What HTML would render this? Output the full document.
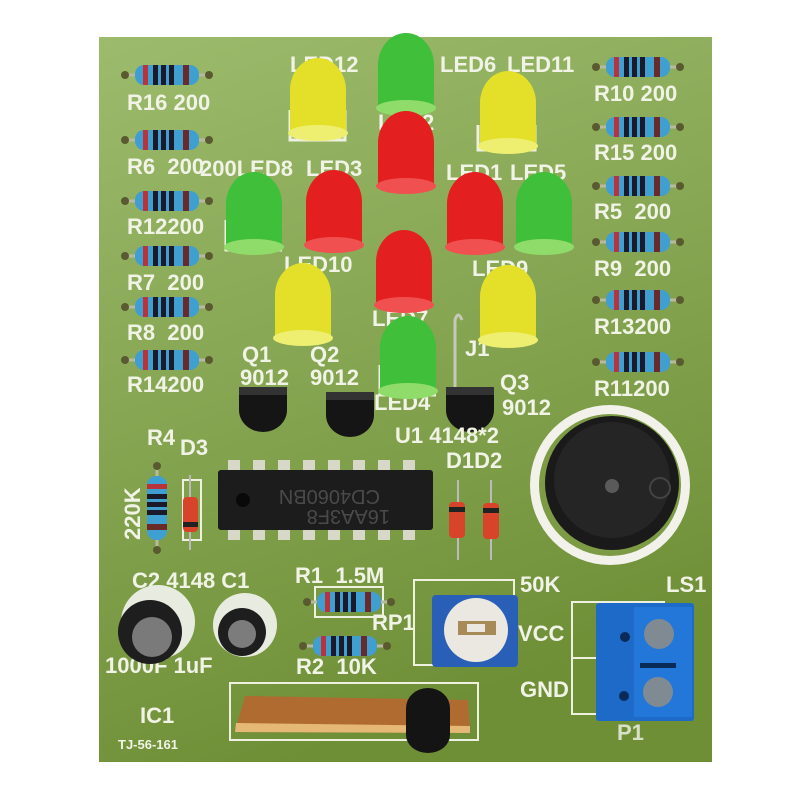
<!DOCTYPE html>
<html><head><meta charset="utf-8"><style>
html,body{margin:0;padding:0;background:#fff;}
svg{display:block}
text{font-family:"Liberation Sans",sans-serif;fill:#f1f3e6;font-size:22px;font-weight:bold;}
</style></head><body>
<svg width="800" height="800" viewBox="0 0 800 800" xmlns="http://www.w3.org/2000/svg">
<defs>
<linearGradient id="bd" x1="0" y1="0" x2="0.3" y2="1">
<stop offset="0" stop-color="#9cbb6c"/><stop offset="0.5" stop-color="#86a653"/><stop offset="1" stop-color="#6f8f37"/>
</linearGradient>
<g id="res">
<line x1="-42" y1="0" x2="42" y2="0" stroke="#b9b9a0" stroke-width="3"/>
<circle cx="-42" cy="0" r="4" fill="#5a5a30"/><circle cx="42" cy="0" r="4" fill="#5a5a30"/>
<rect x="-32" y="-10" width="64" height="20" rx="9" fill="#3f9fd0"/>
<rect x="-24" y="-10" width="5" height="20" fill="#b8343a"/>
<rect x="-14" y="-10" width="5" height="20" fill="#1a1a2a"/>
<rect x="-6" y="-10" width="5" height="20" fill="#1a1a2a"/>
<rect x="2" y="-10" width="5" height="20" fill="#1a1a2a"/>
<rect x="16" y="-10" width="6" height="20" fill="#6b2a2a"/>
</g>
<g id="tr">
<path d="M-24,-18 L24,-18 L24,5 A24,22 0 0 1 -24,5 Z" fill="#151515"/>
<path d="M-24,-18 L24,-18 L24,-10 L-24,-10 Z" fill="#333"/>
</g>
</defs>
<rect width="800" height="800" fill="#fff"/>
<rect x="99" y="37" width="613" height="725" fill="url(#bd)"/>

<use href="#res" transform="translate(167,75)"/>
<use href="#res" transform="translate(167,140)"/>
<use href="#res" transform="translate(167,201)"/>
<use href="#res" transform="translate(167,256)"/>
<use href="#res" transform="translate(167,307)"/>
<use href="#res" transform="translate(167,360)"/>
<text x="127" y="110">R16 200</text>
<text x="127" y="174">R6 &#160;200</text>
<text x="127" y="234">R12200</text>
<text x="127" y="290">R7 &#160;200</text>
<text x="127" y="340">R8 &#160;200</text>
<text x="127" y="392">R14200</text>
<use href="#res" transform="translate(638,67)"/>
<use href="#res" transform="translate(638,127)"/>
<use href="#res" transform="translate(638,186)"/>
<use href="#res" transform="translate(638,242)"/>
<use href="#res" transform="translate(638,300)"/>
<use href="#res" transform="translate(638,362)"/>
<text x="594" y="101">R10 200</text>
<text x="594" y="160">R15 200</text>
<text x="594" y="219">R5 &#160;200</text>
<text x="594" y="276">R9 &#160;200</text>
<text x="594" y="334">R13200</text>
<text x="594" y="396">R11200</text>

<text x="290" y="72">LED12</text>
<text x="440" y="72">LED6</text>
<text x="507" y="72">LED11</text>
<text x="378" y="130">LED2</text>
<text x="200" y="176">200LED8</text>
<text x="306" y="176">LED3</text>
<text x="446" y="180">LED1</text>
<text x="510" y="180">LED5</text>
<text x="284" y="272">LED10</text>
<text x="472" y="276">LED9</text>
<text x="372" y="326">LED7</text>
<text x="465" y="356">J1</text>
<text x="242" y="362">Q1</text>
<text x="310" y="362">Q2</text>
<text x="240" y="385">9012</text>
<text x="310" y="385">9012</text>
<text x="374" y="410">LED4</text>
<text x="500" y="390">Q3</text>
<text x="502" y="415">9012</text>

<g stroke="#eef0e0" stroke-width="3" fill="none">
<path d="M290,110 L290,140 L345,140 L345,110"/>
<path d="M478,125 L478,150 L535,150 L535,125"/>
<path d="M226,220 L226,250 L282,250"/>
<path d="M380,365 L380,395 L436,395"/>
</g>
<g>
<g transform="translate(406,75)"><path d="M-28,35 L-28,-10 A28,32 0 0 1 28,-10 L28,35 Z" fill="#3fbf3a"/><ellipse cx="0" cy="33" rx="30" ry="8" fill="#8fdc6a"/></g>
<g transform="translate(318,100)"><path d="M-28,35 L-28,-10 A28,32 0 0 1 28,-10 L28,35 Z" fill="#e4e02a"/><ellipse cx="0" cy="33" rx="30" ry="8" fill="#eeee70"/></g>
<g transform="translate(508,113)"><path d="M-28,35 L-28,-10 A28,32 0 0 1 28,-10 L28,35 Z" fill="#e4e02a"/><ellipse cx="0" cy="33" rx="30" ry="8" fill="#eeee70"/></g>
<g transform="translate(406,153)"><path d="M-28,35 L-28,-10 A28,32 0 0 1 28,-10 L28,35 Z" fill="#e31f1f"/><ellipse cx="0" cy="33" rx="30" ry="8" fill="#f05050"/></g>
<g transform="translate(254,214)"><path d="M-28,35 L-28,-10 A28,32 0 0 1 28,-10 L28,35 Z" fill="#3fbf3a"/><ellipse cx="0" cy="33" rx="30" ry="8" fill="#8fdc6a"/></g>
<g transform="translate(334,212)"><path d="M-28,35 L-28,-10 A28,32 0 0 1 28,-10 L28,35 Z" fill="#e31f1f"/><ellipse cx="0" cy="33" rx="30" ry="8" fill="#f05050"/></g>
<g transform="translate(475,214)"><path d="M-28,35 L-28,-10 A28,32 0 0 1 28,-10 L28,35 Z" fill="#e31f1f"/><ellipse cx="0" cy="33" rx="30" ry="8" fill="#f05050"/></g>
<g transform="translate(544,214)"><path d="M-28,35 L-28,-10 A28,32 0 0 1 28,-10 L28,35 Z" fill="#3fbf3a"/><ellipse cx="0" cy="33" rx="30" ry="8" fill="#8fdc6a"/></g>
<g transform="translate(404,272)"><path d="M-28,35 L-28,-10 A28,32 0 0 1 28,-10 L28,35 Z" fill="#e31f1f"/><ellipse cx="0" cy="33" rx="30" ry="8" fill="#f05050"/></g>
<g transform="translate(303,305)"><path d="M-28,35 L-28,-10 A28,32 0 0 1 28,-10 L28,35 Z" fill="#e4e02a"/><ellipse cx="0" cy="33" rx="30" ry="8" fill="#eeee70"/></g>
<g transform="translate(508,307)"><path d="M-28,35 L-28,-10 A28,32 0 0 1 28,-10 L28,35 Z" fill="#e4e02a"/><ellipse cx="0" cy="33" rx="30" ry="8" fill="#eeee70"/></g>
<g transform="translate(408,358)"><path d="M-28,35 L-28,-10 A28,32 0 0 1 28,-10 L28,35 Z" fill="#3fbf3a"/><ellipse cx="0" cy="33" rx="30" ry="8" fill="#8fdc6a"/></g>
</g>

<path d="M455,395 L455,320 Q458,310 462,320" stroke="#c8c8b8" stroke-width="3" fill="none"/>

<use href="#tr" transform="translate(263,405)"/>
<use href="#tr" transform="translate(350,410)"/>
<use href="#tr" transform="translate(470,405)"/>

<use href="#res" transform="translate(157,508) rotate(90)"/>
<text x="147" y="445">R4</text>
<text x="180" y="455">D3</text>
<text transform="translate(140,540) rotate(-90)">220K</text>
<rect x="183" y="480" width="18" height="60" fill="none" stroke="#eef0e0" stroke-width="2"/>
<line x1="190" y1="475" x2="190" y2="550" stroke="#bbb" stroke-width="2"/>
<rect x="183" y="497" width="15" height="35" rx="4" fill="#d8442a"/>
<rect x="183" y="522" width="15" height="5" fill="#222"/>

<g fill="#d8d8c8">
<rect x="228" y="460" width="12" height="12"/><rect x="253" y="460" width="12" height="12"/><rect x="278" y="460" width="12" height="12"/><rect x="303" y="460" width="12" height="12"/><rect x="328" y="460" width="12" height="12"/><rect x="353" y="460" width="12" height="12"/><rect x="378" y="460" width="12" height="12"/><rect x="403" y="460" width="12" height="12"/>
<rect x="228" y="528" width="12" height="12"/><rect x="253" y="528" width="12" height="12"/><rect x="278" y="528" width="12" height="12"/><rect x="303" y="528" width="12" height="12"/><rect x="328" y="528" width="12" height="12"/><rect x="353" y="528" width="12" height="12"/><rect x="378" y="528" width="12" height="12"/><rect x="403" y="528" width="12" height="12"/>
</g>
<rect x="218" y="470" width="215" height="60" rx="3" fill="#1c1c1c"/>
<circle cx="243" cy="500" r="7" fill="#090909"/>
<text transform="translate(380,490) rotate(180)" style="fill:#4a4a4a;font-size:20px;font-weight:normal">CD4060BN</text>
<text transform="translate(390,510) rotate(180)" style="fill:#4a4a4a;font-size:20px;font-weight:normal">16AA3F8</text>
<text x="395" y="443">U1 4148*2</text>
<text x="446" y="468">D1D2</text>

<line x1="458" y1="480" x2="458" y2="560" stroke="#bbb" stroke-width="2"/>
<line x1="491" y1="480" x2="491" y2="560" stroke="#bbb" stroke-width="2"/>
<rect x="449" y="502" width="16" height="36" rx="4" fill="#d8442a"/>
<rect x="483" y="503" width="16" height="36" rx="4" fill="#d8442a"/>
<rect x="449" y="507" width="16" height="5" fill="#222"/>
<rect x="483" y="508" width="16" height="5" fill="#222"/>

<circle cx="610" cy="485" r="80" fill="#f2f2ea"/>
<circle cx="610" cy="485" r="71" fill="#7d9a45"/>
<circle cx="612" cy="483" r="67" fill="#1a1a1a"/>
<circle cx="612" cy="480" r="58" fill="#252525"/>
<circle cx="612" cy="486" r="7" fill="#5a5a5a"/>
<circle cx="660" cy="488" r="10" fill="none" stroke="#444" stroke-width="2"/>

<text x="132" y="588">C2 4148 C1</text>
<text x="295" y="583">R1 &#160;1.5M</text>
<text x="520" y="592">50K</text>
<text x="666" y="592">LS1</text>
<text x="372" y="630">RP1</text>
<text x="518" y="641">VCC</text>
<text x="520" y="697">GND</text>
<text x="105" y="673">1000F 1uF</text>
<text x="296" y="674">R2 &#160;10K</text>
<text x="140" y="723">IC1</text>
<text x="118" y="749" style="font-size:13px">TJ-56-161</text>

<circle cx="158" cy="622" r="37" fill="#e8ece0"/>
<circle cx="150" cy="632" r="32" fill="#1e1e1e"/>
<circle cx="152" cy="637" r="20" fill="#7a7a7a"/>
<circle cx="245" cy="625" r="32" fill="#e8ece0"/>
<circle cx="242" cy="632" r="24" fill="#1e1e1e"/>
<circle cx="242" cy="634" r="14" fill="#7c7c7c"/>

<rect x="315" y="587" width="68" height="30" fill="none" stroke="#eef0e0" stroke-width="2"/>
<use href="#res" transform="translate(349,602)"/>
<use href="#res" transform="translate(345,646)"/>

<rect x="414" y="580" width="100" height="85" fill="none" stroke="#eef0e0" stroke-width="2"/>
<rect x="432" y="595" width="86" height="72" rx="4" fill="#2a5fb8"/>
<circle cx="476" cy="630" r="32" fill="#eae8e0"/>
<rect x="458" y="621" width="38" height="14" fill="#a88a58"/>
<rect x="467" y="624" width="18" height="8" fill="#eae8e0"/>

<rect x="572" y="602" width="92" height="112" fill="none" stroke="#eef0e0" stroke-width="2"/>
<line x1="572" y1="658" x2="600" y2="658" stroke="#eef0e0" stroke-width="2"/>
<rect x="596" y="603" width="98" height="118" rx="3" fill="#1d6ac8"/>
<rect x="634" y="607" width="58" height="110" fill="#2277d8"/>
<circle cx="659" cy="634" r="15" fill="#7f8a93"/>
<circle cx="658" cy="692" r="15" fill="#7f8a93"/>
<rect x="640" y="663" width="36" height="5" fill="#0a2a5a"/>
<circle cx="625" cy="637" r="5" fill="#0a2a5a"/>
<circle cx="624" cy="696" r="5" fill="#0a2a5a"/>
<text x="617" y="740" style="fill:#d8e0c8">P1</text>

<rect x="230" y="683" width="248" height="57" fill="none" stroke="#eef0e0" stroke-width="2"/>
<path d="M245,696 L468,700 L470,733 L235,732 Z" fill="#b06b30"/>
<path d="M236,723 L470,726 L470,733 L235,732 Z" fill="#e5b876"/>
<path d="M406,708 A22,20 0 0 1 450,708 L450,735 A22,18 0 0 1 406,735 Z" fill="#141414"/>
</svg>
</body></html>
